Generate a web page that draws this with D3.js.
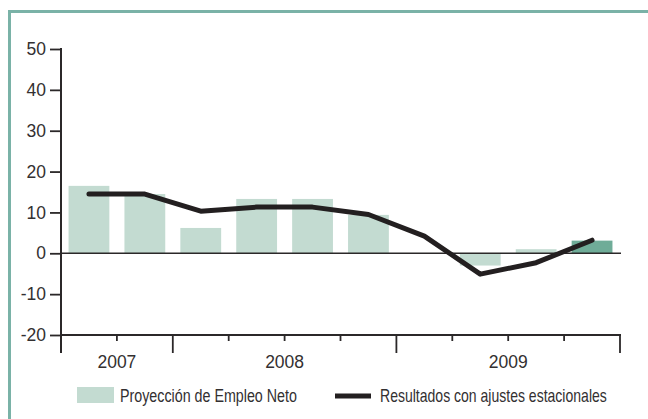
<!DOCTYPE html>
<html>
<head>
<meta charset="utf-8">
<script src="https://cdn.jsdelivr.net/npm/d3@7/dist/d3.min.js"></script>
<style>
  html, body { margin: 0; padding: 0; background: #fff; }
  svg { display: block; }
  text { font-family: "Liberation Sans", Arial, sans-serif; fill: #333031; }
</style>
</head>
<body>
<svg id="chart" width="648" height="419"></svg>
<script>
// Quarterly periods: 2007 Q3 through 2009 Q4
const quarters = ["2007T3", "2007T4", "2008T1", "2008T2", "2008T3", "2008T4",
                  "2009T1", "2009T2", "2009T3", "2009T4"];
// Net employment outlook (bars); null where no value is shown
const proyeccion = [16.5, 14.5, 6.2, 13.3, 13.3, 9.4, null, -3.0, 1.0, 3.1];
// Seasonally adjusted results (line)
const resultados = [14.5, 14.5, 10.3, 11.3, 11.3, 9.5, 4.2, -5.1, -2.3, 3.2];
// Year groups along the bottom axis
const years = ["2007", "2008", "2009"];
const yearSpans = [[0, 2], [2, 6], [6, 10]];
const yTicks = [50, 40, 30, 20, 10, 0, -10, -20];
const legendLabels = ["Proyección de Empleo Neto", "Resultados con ajustes estacionales"];

const svg = d3.select("#chart");
const ink = "#2b2829";

// frame
svg.append("path")
  .attr("d", "M9.5,430 V11.5 H660")
  .attr("fill", "none")
  .attr("stroke", "#7ab2a7")
  .attr("stroke-width", 3);

const x0 = 61, x1 = 620;
const x = d3.scaleBand().domain(quarters).range([x0, x1]).paddingInner(0.27).paddingOuter(0.135);
const y = d3.scaleLinear().domain([-20, 50]).range([335, 49]);

// bars
svg.append("g").selectAll("rect")
  .data(quarters.map((q, i) => ({ q, v: proyeccion[i], i })).filter(d => d.v !== null))
  .join("rect")
  .attr("x", d => x(d.q))
  .attr("width", x.bandwidth())
  .attr("y", d => y(Math.max(0, d.v)))
  .attr("height", d => Math.abs(y(d.v) - y(0)))
  .attr("fill", d => d.i === quarters.length - 1 ? "#6fac98" : "#c3dbd1");

// zero line
svg.append("line")
  .attr("x1", x0).attr("x2", x1 + 1)
  .attr("y1", y(0)).attr("y2", y(0))
  .attr("stroke", ink).attr("stroke-width", 1.5);

// y axis (plain hyphen for negatives)
const yAxis = svg.append("g").attr("transform", `translate(${x0},0)`)
  .call(d3.axisLeft(y).tickValues(yTicks).tickSize(11).tickPadding(4).tickFormat(d => String(d)));
yAxis.select(".domain").remove();
yAxis.selectAll(".tick line").attr("stroke", ink).attr("stroke-width", 1.8);
yAxis.selectAll(".tick text").attr("font-size", 17.5).attr("fill", "#333031")
  .attr("font-family", "Liberation Sans, Arial, sans-serif");
svg.append("line").attr("x1", x0).attr("x2", x0).attr("y1", y(50) - 1).attr("y2", 353)
  .attr("stroke", ink).attr("stroke-width", 2);

// x axis baseline
svg.append("line").attr("x1", x0).attr("x2", x1 + 1).attr("y1", y(-20)).attr("y2", y(-20))
  .attr("stroke", ink).attr("stroke-width", 2);

// quarter ticks along the bottom
const step = x.step();
const edge = i => x0 + i * step;
const majors = new Set([0, 2, 6, 10]);
svg.append("g").selectAll("line")
  .data(d3.range(0, 11))
  .join("line")
  .attr("x1", i => edge(i)).attr("x2", i => edge(i))
  .attr("y1", y(-20))
  .attr("y2", i => majors.has(i) ? 353 : 341)
  .attr("stroke", ink).attr("stroke-width", 1.8);

// year labels
svg.append("g").selectAll("text")
  .data(years)
  .join("text")
  .attr("x", (d, i) => (edge(yearSpans[i][0]) + edge(yearSpans[i][1])) / 2)
  .attr("y", 368)
  .attr("text-anchor", "middle")
  .attr("font-size", 17.5)
  .text(d => d);

// line series
const line = d3.line()
  .x((d, i) => x(quarters[i]) + x.bandwidth() / 2)
  .y(d => y(d));
svg.append("path")
  .datum(resultados)
  .attr("d", line)
  .attr("fill", "none")
  .attr("stroke", "#231f20")
  .attr("stroke-width", 5)
  .attr("stroke-linejoin", "round")
  .attr("stroke-linecap", "round");

// legend: condensed labels, squeezed horizontally to the target width
function condensedLabel(g, tx, ty, width, label) {
  const t = g.append("text").attr("font-size", 18).text(label);
  const natural = t.node().getComputedTextLength();
  t.attr("transform", `translate(${tx},${ty}) scale(${width / natural},1)`);
}
const lg = svg.append("g");
lg.append("rect").attr("x", 77).attr("y", 387).attr("width", 37).attr("height", 16).attr("fill", "#c3dbd1");
condensedLabel(lg, 120, 401.5, 177, legendLabels[0]);
lg.append("rect").attr("x", 335).attr("y", 393.5).attr("width", 36).attr("height", 5).attr("fill", "#231f20");
condensedLabel(lg, 380, 401.5, 227, legendLabels[1]);
</script>
</body>
</html>
